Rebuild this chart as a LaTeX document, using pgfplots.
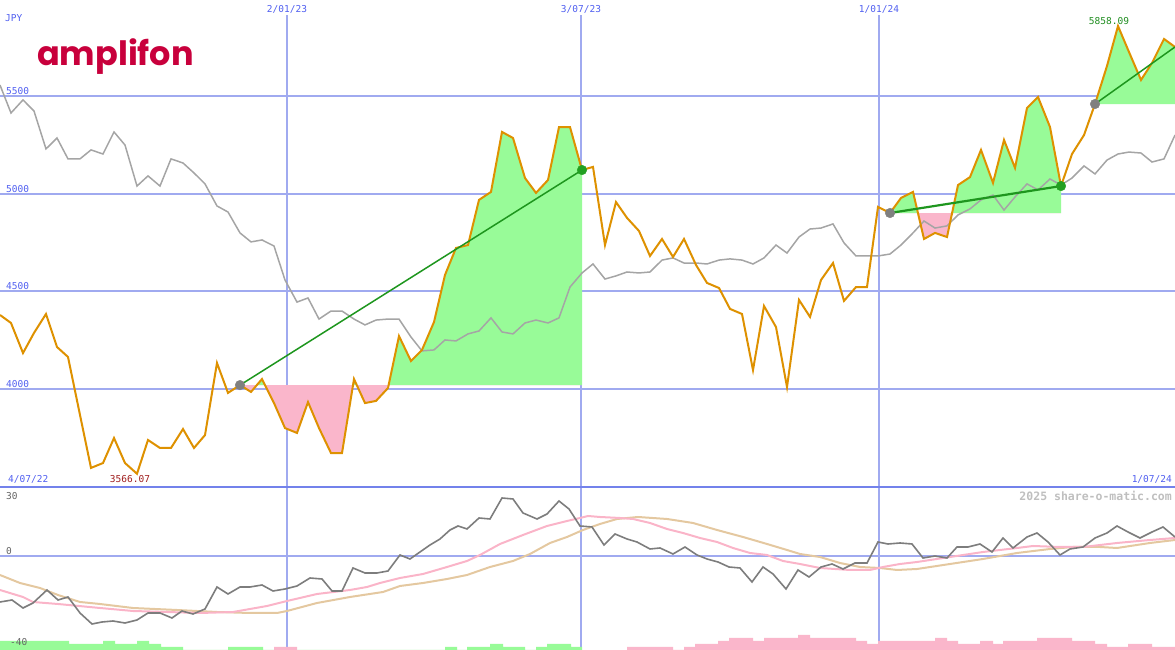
\documentclass[border=0pt]{standalone}
\usepackage{pgfplots}
\pgfplotsset{compat=1.18}
\usepackage{fontspec}
\setmonofont{DejaVu Sans Mono}
\newfontfamily\logofont{Poppins}

\definecolor{gridblue}{RGB}{160,170,240}
\definecolor{sepblue}{RGB}{115,130,235}
\definecolor{labblue}{RGB}{80,95,240}
\definecolor{priceorange}{RGB}{222,145,0}
\definecolor{relgray}{RGB}{165,165,165}
\definecolor{upgreen}{RGB}{152,251,152}
\definecolor{downpink}{RGB}{250,182,203}
\definecolor{trendgreen}{RGB}{30,150,30}
\definecolor{dotgray}{RGB}{128,128,128}
\definecolor{dotgreen}{RGB}{34,160,34}
\definecolor{logored}{RGB}{200,0,60}
\definecolor{oscgray}{RGB}{125,125,125}
\definecolor{oscpink}{RGB}{250,180,200}
\definecolor{osctan}{RGB}{228,200,160}
\definecolor{lowred}{RGB}{160,30,30}
\definecolor{highgreen}{RGB}{30,140,30}

\newcommand\lab{\fontsize{9.5}{11}\selectfont\ttfamily}

\pgfplotsset{
  panel/.style={scale only axis, width=1175pt, xmin=0, xmax=1175,
    axis lines=none, xtick=\empty, ytick=\empty, clip=true},
}

\begin{document}
\begin{tikzpicture}
\path[use as bounding box] (0pt,0pt) rectangle (1175pt,650pt);

% ---------- price panel ----------
\begin{axis}[panel, at={(0pt,163pt)}, anchor=south west, height=487pt,
    ymin=3498.3, ymax=5991.5]
  % grid
  \foreach \v in {4000,4500,5000,5500}{
    \edef\tmp{\noexpand\draw[gridblue, line width=2pt] (axis cs:0,\v) -- (axis cs:1175,\v);}\tmp}
  \draw[gridblue, line width=1.2pt] (axis cs:287,3400) -- (axis cs:287,5915);
  \draw[gridblue, line width=2.5pt] (axis cs:581,3400) -- (axis cs:581,5915);
  \draw[gridblue, line width=1.2pt] (axis cs:879,3400) -- (axis cs:879,5915);

  % gain / loss areas against each entry price
  \begin{scope}
    \clip (axis cs:240,4020) rectangle (axis cs:582,6100);
    \addplot[fill=upgreen, draw=none] coordinates {(240,4020) (251,3985) (262,4051) (274,3928) (285,3800) (297,3775) (308,3933) (319,3800) (331,3672) (342,3672) (354,4051) (365,3928) (376,3939) (388,4005) (399,4271) (411,4143) (422,4200) (434,4343) (445,4584) (456,4722) (468,4737) (479,4968) (491,5009) (502,5316) (513,5285) (525,5080) (536,5004) (548,5070) (559,5341) (570,5341) (582,5121) (582,4020)};
  \end{scope}
  \begin{scope}
    \clip (axis cs:240,3400) rectangle (axis cs:582,4020);
    \addplot[fill=downpink, draw=none] coordinates {(240,4020) (251,3985) (262,4051) (274,3928) (285,3800) (297,3775) (308,3933) (319,3800) (331,3672) (342,3672) (354,4051) (365,3928) (376,3939) (388,4005) (399,4271) (411,4143) (422,4200) (434,4343) (445,4584) (456,4722) (468,4737) (479,4968) (491,5009) (502,5316) (513,5285) (525,5080) (536,5004) (548,5070) (559,5341) (570,5341) (582,5121) (582,4020)};
  \end{scope}
  \begin{scope}
    \clip (axis cs:890,4901) rectangle (axis cs:1061,6100);
    \addplot[fill=upgreen, draw=none] coordinates {(890,4901) (901,4978) (913,5009) (924,4768) (935,4799) (947,4778) (958,5044) (970,5085) (981,5224) (993,5055) (1004,5275) (1015,5132) (1027,5439) (1038,5495) (1050,5341) (1061,5039) (1061,4901)};
  \end{scope}
  \begin{scope}
    \clip (axis cs:890,3400) rectangle (axis cs:1061,4901);
    \addplot[fill=downpink, draw=none] coordinates {(890,4901) (901,4978) (913,5009) (924,4768) (935,4799) (947,4778) (958,5044) (970,5085) (981,5224) (993,5055) (1004,5275) (1015,5132) (1027,5439) (1038,5495) (1050,5341) (1061,5039) (1061,4901)};
  \end{scope}
  \begin{scope}
    \clip (axis cs:1095,5459) rectangle (axis cs:1175,6100);
    \addplot[fill=upgreen, draw=none] coordinates {(1095,5459) (1107,5654) (1118,5858.09) (1129,5725) (1141,5582) (1152,5669) (1164,5792) (1175,5751) (1175,5459)};
  \end{scope}

  % relative (index) line
  \addplot[relgray, line width=1.5pt] coordinates {(0,5556) (11,5413) (23,5480) (34,5423) (46,5229) (57,5285) (68,5178) (80,5178) (91,5224) (103,5203) (114,5316) (125,5249) (137,5039) (148,5091) (160,5039) (171,5178) (183,5157) (194,5106) (205,5050) (217,4937) (228,4906) (240,4799) (251,4753) (262,4763) (274,4732) (285,4558) (297,4445) (308,4466) (319,4358) (331,4399) (342,4399) (354,4358) (365,4328) (376,4353) (388,4358) (399,4358) (411,4266) (422,4195) (434,4200) (445,4251) (456,4246) (468,4282) (479,4297) (491,4364) (502,4292) (513,4282) (525,4338) (536,4353) (548,4338) (559,4364) (570,4522) (582,4594) (593,4640) (605,4563) (616,4579) (627,4599) (639,4594) (650,4599) (662,4660) (673,4671) (684,4645) (696,4645) (707,4640) (719,4660) (730,4666) (742,4660) (753,4640) (764,4671) (776,4737) (787,4696) (799,4778) (810,4819) (821,4824) (833,4845) (844,4748) (856,4681) (867,4681) (878,4681) (890,4691) (901,4737) (913,4799) (924,4860) (935,4824) (947,4835) (958,4891) (970,4922) (981,4968) (993,4993) (1004,4916) (1015,4983) (1027,5050) (1038,5019) (1050,5075) (1061,5044) (1072,5080) (1084,5142) (1095,5101) (1107,5172) (1118,5203) (1129,5213) (1141,5208) (1152,5162) (1164,5178) (1175,5300)};

  % price
  \addplot[priceorange, line width=2pt] coordinates {(0,4379) (11,4338) (23,4184) (34,4287) (46,4384) (57,4215) (68,4164) (80,3867) (91,3596) (103,3621) (114,3749) (125,3621) (137,3566.07) (148,3739) (160,3698) (171,3698) (183,3795) (194,3698) (205,3764) (217,4133) (228,3980) (240,4020) (251,3985) (262,4051) (274,3928) (285,3800) (297,3775) (308,3933) (319,3800) (331,3672) (342,3672) (354,4051) (365,3928) (376,3939) (388,4005) (399,4271) (411,4143) (422,4200) (434,4343) (445,4584) (456,4722) (468,4737) (479,4968) (491,5009) (502,5316) (513,5285) (525,5080) (536,5004) (548,5070) (559,5341) (570,5341) (582,5121) (593,5137) (605,4737) (616,4957) (627,4876) (639,4809) (650,4681) (662,4768) (673,4676) (684,4768) (696,4635) (707,4543) (719,4517) (730,4410) (742,4384) (753,4097) (764,4425) (776,4317) (787,4010) (799,4456) (810,4369) (821,4558) (833,4645) (844,4451) (856,4522) (867,4522) (878,4932) (890,4901) (901,4978) (913,5009) (924,4768) (935,4799) (947,4778) (958,5044) (970,5085) (981,5224) (993,5055) (1004,5275) (1015,5132) (1027,5439) (1038,5495) (1050,5341) (1061,5039) (1072,5203) (1084,5300) (1095,5459) (1107,5654) (1118,5858.09) (1129,5725) (1141,5582) (1152,5669) (1164,5792) (1175,5751)};

  % trend lines entry -> exit
  \addplot[trendgreen, line width=1.5pt] coordinates {(240,4020) (582,5121)};
  \addplot[trendgreen, line width=2.2pt] coordinates {(890,4901) (1061,5039)};
  \addplot[trendgreen, line width=1.5pt] coordinates {(1095,5459) (1175,5751)};

  % entry / exit dots
  \addplot[dotgray, only marks, mark=*, mark size=4.8pt, mark options={draw=dotgray, fill=dotgray}] coordinates {(240,4020) (890,4901) (1095,5459)};
  \addplot[dotgreen, only marks, mark=*, mark size=4.8pt, mark options={draw=dotgreen, fill=dotgreen}] coordinates {(582,5121) (1061,5039)};
\end{axis}

% ---------- oscillator panel ----------
\begin{axis}[panel, at={(0pt,0pt)}, anchor=south west, height=163pt,
    ymin=-94, ymax=69]
  \draw[gridblue, line width=2pt] (axis cs:0,0) -- (axis cs:1175,0);
  \draw[gridblue, line width=1.2pt] (axis cs:287,-100) -- (axis cs:287,80);
  \draw[gridblue, line width=2.5pt] (axis cs:581,-100) -- (axis cs:581,80);
  \draw[gridblue, line width=1.2pt] (axis cs:879,-100) -- (axis cs:879,80);

  % volume bars
  \addplot[const plot, fill=upgreen, draw=none] coordinates {(0,-94) (0,-85) (69,-88) (103,-85) (115,-88) (137,-85) (149,-88) (161,-91) (183,-94) (228,-91) (263,-94) (445,-91) (457,-94) (467,-91) (490,-88) (503,-91) (525,-94) (536,-91) (547,-88) (571,-91) (582,-94)};
  \addplot[const plot, fill=downpink, draw=none] coordinates {(274,-94) (274,-91) (297,-94)};
  \addplot[const plot, fill=downpink, draw=none] coordinates {(627,-94) (627,-91) (673,-94) (684,-91) (695,-88) (718,-85) (729,-82) (753,-85) (764,-82) (798,-79) (810,-82) (856,-85) (867,-88) (878,-85) (935,-82) (947,-85) (958,-88) (980,-85) (993,-88) (1003,-85) (1037,-82) (1072,-85) (1095,-88) (1107,-91) (1128,-88) (1152,-91) (1175,-91) (1175,-94)};

  \addplot[osctan, line width=2pt] coordinates {(0,-19) (20,-27) (40,-32) (58,-39) (80,-46) (100,-48) (133,-52) (177,-54) (217,-56) (250,-57) (277,-57) (287,-55) (317,-47) (350,-41) (383,-36) (400,-30) (423,-27) (447,-23) (467,-19) (490,-11) (513,-5) (530,2) (550,13) (567,19) (583,26) (600,32) (617,37) (638,39) (667,37) (693,33) (717,26) (743,19) (767,12) (787,6) (800,2) (820,-1) (840,-7) (860,-11) (880,-12) (897,-14) (917,-13) (950,-8) (983,-3) (1017,3) (1050,7) (1073,9) (1100,9) (1117,8) (1150,13) (1175,16)};
  \addplot[oscpink, line width=2pt] coordinates {(0,-34) (23,-41) (33,-46) (58,-48) (100,-52) (133,-55) (167,-56) (200,-57) (233,-56) (267,-50) (287,-45) (317,-38) (350,-34) (367,-31) (380,-27) (400,-22) (423,-18) (447,-11) (467,-5) (480,1) (500,12) (523,21) (547,30) (567,35) (580,38) (588,40) (600,39) (620,38) (633,37) (650,33) (667,27) (683,23) (700,18) (717,14) (733,8) (750,3) (767,1) (783,-5) (800,-8) (820,-12) (850,-14) (870,-14) (883,-11) (900,-8) (917,-6) (950,-1) (983,4) (1017,8) (1033,10) (1060,9) (1083,9) (1117,13) (1150,16) (1175,18)};
  \addplot[oscgray, line width=1.6pt] coordinates {(0,-46) (12,-44) (23,-52) (33,-47) (47,-34) (58,-44) (68,-41) (80,-57) (92,-68) (102,-66) (113,-65) (125,-67) (137,-64) (148,-57) (160,-57) (172,-62) (182,-55) (193,-58) (205,-53) (217,-31) (228,-38) (240,-31) (250,-31) (262,-29) (273,-35) (285,-33) (297,-30) (310,-22) (322,-23) (332,-35) (342,-35) (353,-12) (365,-17) (377,-17) (388,-15) (400,1) (410,-3) (420,4) (430,11) (440,17) (450,26) (458,30) (467,27) (479,38) (490,37) (502,58) (513,57) (523,43) (537,37) (547,42) (559,55) (569,47) (580,30) (592,29) (600,17) (604,11) (615,22) (627,17) (637,14) (650,7) (660,8) (673,2) (685,9) (697,1) (707,-3) (718,-6) (729,-11) (740,-12) (752,-26) (763,-11) (773,-18) (786,-33) (798,-14) (809,-21) (821,-11) (832,-8) (843,-13) (855,-7) (867,-7) (878,14) (888,12) (900,13) (912,12) (923,-2) (935,0) (947,-2) (957,9) (968,9) (980,12) (992,4) (1003,18) (1013,8) (1027,19) (1037,23) (1048,14) (1060,1) (1070,7) (1083,9) (1095,18) (1107,23) (1117,30) (1128,24) (1140,18) (1152,24) (1163,29) (1175,19)};
\end{axis}

% separator between panels
\draw[sepblue, line width=2pt] (0pt,163pt) -- (1175pt,163pt);

% ---------- texts ----------
\begin{scope}[every node/.style={inner sep=0pt, font=\lab}]
  \node[labblue, anchor=west] at (5pt,632pt) {JPY};
  \node[labblue] at (287pt,641pt) {2/01/23};
  \node[labblue] at (581pt,641pt) {3/07/23};
  \node[labblue] at (879pt,641pt) {1/01/24};
  \node[labblue, anchor=west] at (6pt,559pt) {5500};
  \node[labblue, anchor=west] at (6pt,461pt) {5000};
  \node[labblue, anchor=west] at (6pt,364pt) {4500};
  \node[labblue, anchor=west] at (6pt,266pt) {4000};
  \node[labblue, anchor=west] at (8pt,171pt) {4/07/22};
  \node[labblue, anchor=east] at (1172pt,171pt) {1/07/24};
  \node[lowred] at (130pt,171pt) {3566.07};
  \node[highgreen] at (1109pt,629pt) {5858.09};
  \node[oscgray!80!black, anchor=west] at (6pt,154pt) {30};
  \node[oscgray!80!black, anchor=west] at (6pt,99pt) {0};
  \node[oscgray!80!black, anchor=west] at (10pt,8pt) {-40};
  \node[black!25, anchor=east, font=\fontsize{11.5}{12}\selectfont\ttfamily\bfseries] at (1172pt,154pt) {2025 share-o-matic.com};
\end{scope}
\node[logored, inner sep=0pt, anchor=base west, font=\fontsize{33.5}{38}\selectfont\logofont\bfseries] at (37pt,584pt) {amplifon};
\end{tikzpicture}
\end{document}
